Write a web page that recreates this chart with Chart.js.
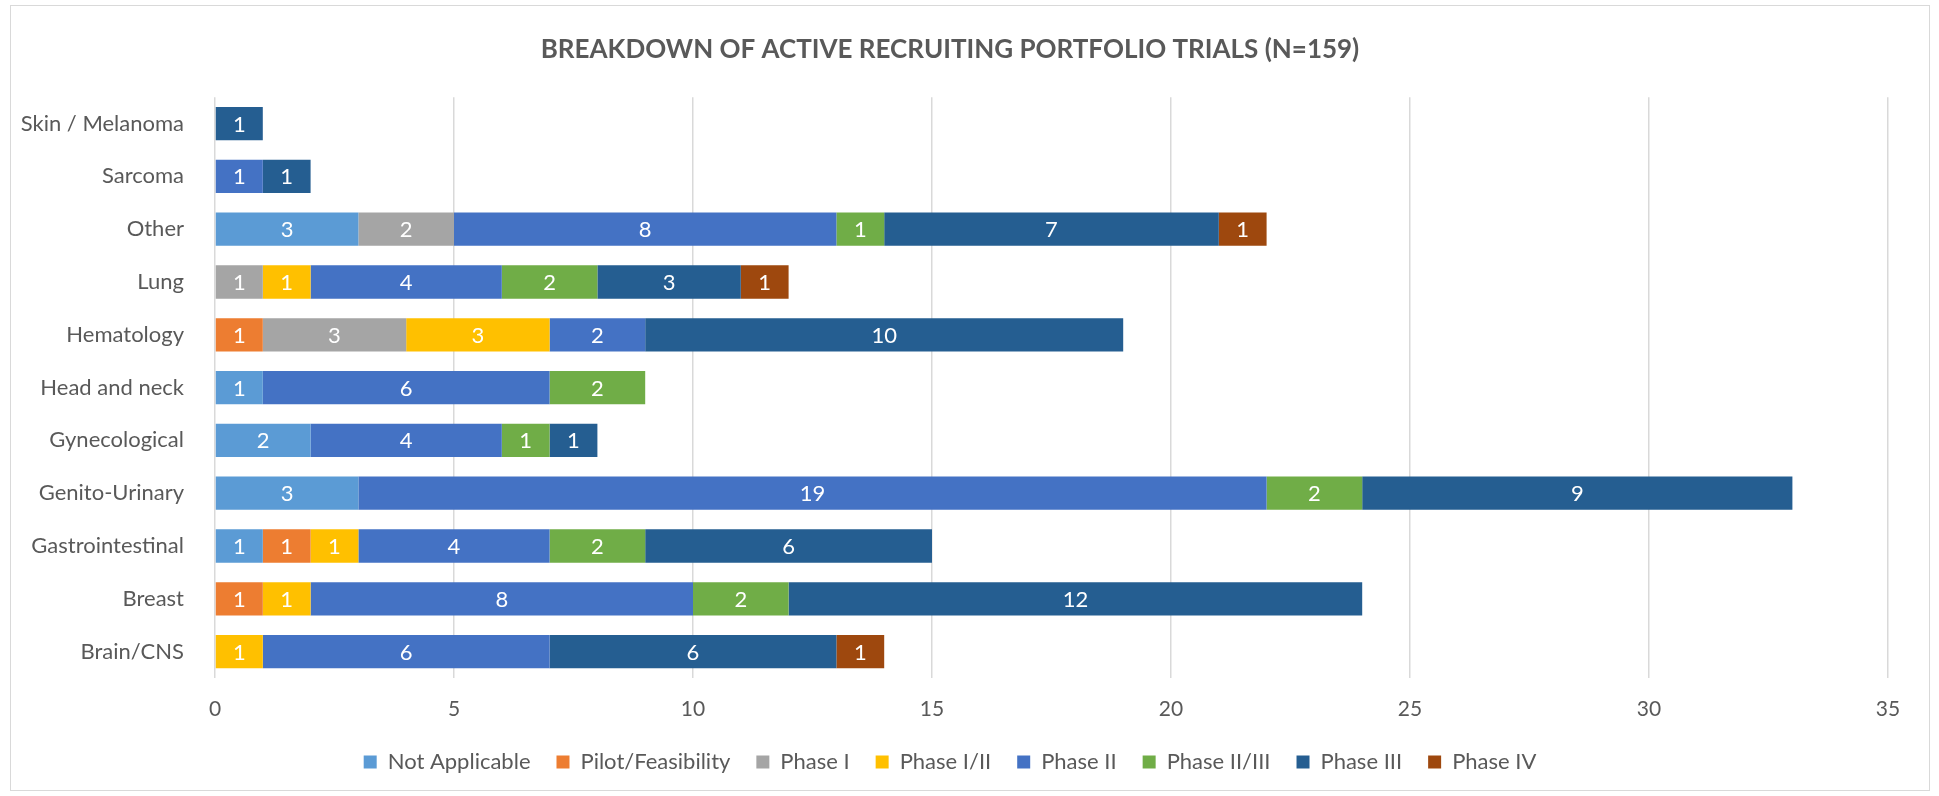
<!DOCTYPE html>
<html>
<head>
<meta charset="utf-8">
<script src="https://cdn.jsdelivr.net/npm/chart.js@4/dist/chart.umd.min.js"></script>
<style>
  html, body { margin: 0; padding: 0; background: #fff; }
  #wrap { position: relative; width: 1939px; height: 796px; }
  #frame { position: absolute; left: 10px; top: 5px; width: 1918px; height: 784px; border: 1.5px solid #d9d9d9; pointer-events: none; }
  canvas { position: absolute; left: 0; top: 0; }
</style>
</head>
<body>
<div id="wrap">
  <canvas id="trialsChart" width="1939" height="796"></canvas>
  <div id="frame"></div>
</div>
<script>
// categories, top to bottom
const categories = ['Skin / Melanoma', 'Sarcoma', 'Other', 'Lung', 'Hematology', 'Head and neck',
    'Gynecological', 'Genito-Urinary', 'Gastrointestinal', 'Breast', 'Brain/CNS'];

const notApplicable = [null, null, 3, null, null, 1, 2, 3, 1, null, null];
const pilotFeasibility = [null, null, null, null, 1, null, null, null, 1, 1, null];
const phase1 = [null, null, 2, 1, 3, null, null, null, null, null, null];
const phase1_2 = [null, null, null, 1, 3, null, null, null, 1, 1, 1];
const phase2 = [null, 1, 8, 4, 2, 6, 4, 19, 4, 8, 6];
const phase2_3 = [null, null, 1, 2, null, 2, 1, 2, 2, 2, null];
const phase3 = [1, 1, 7, 3, 10, null, 1, 9, 6, 12, 6];
const phase4 = [null, null, 1, 1, null, null, null, null, null, null, 1];

const seriesNames = ['Not Applicable', 'Pilot/Feasibility', 'Phase I', 'Phase I/II', 'Phase II',
    'Phase II/III', 'Phase III', 'Phase IV'];
const seriesColors = ['#5B9BD5', '#ED7D31', '#A5A5A5', '#FFC000', '#4472C4', '#70AD47', '#255E91', '#9E480E'];
const seriesValues = [notApplicable, pilotFeasibility, phase1, phase1_2, phase2, phase2_3, phase3, phase4];

const xTicks = [0, 5, 10, 15, 20, 25, 30, 35];

const fontFamily = "Lato, 'Open Sans', sans-serif";
const grey = '#595959';

// white value labels in the middle of each segment
const barLabels = {
    id: 'barLabels',
    afterDatasetsDraw(chart) {
        const ctx = chart.ctx;
        ctx.save();
        ctx.font = '22px ' + fontFamily;
        ctx.fillStyle = '#ffffff';
        ctx.textAlign = 'center';
        ctx.textBaseline = 'middle';
        chart.data.datasets.forEach((ds, i) => {
            const meta = chart.getDatasetMeta(i);
            meta.data.forEach((bar, j) => {
                const v = ds.data[j];
                if (!v) return;
                const p = bar.getProps(['x', 'y', 'base'], true);
                ctx.fillText(String(v), (p.x + p.base) / 2, p.y + 1);
            });
        });
        ctx.restore();
    }
};

const data = {
    labels: categories,
    datasets: seriesNames.map((name, i) => ({
        label: name,
        data: seriesValues[i],
        backgroundColor: seriesColors[i],
        borderWidth: 0,
        barPercentage: 0.63,
        categoryPercentage: 1
    }))
};

const options = {
    indexAxis: 'y',
    responsive: false,
    animation: false,
    layout: {
        padding: { left: 12, right: 51, top: 6, bottom: 13 }
    },
    plugins: {
        title: {
            display: true,
            text: 'BREAKDOWN OF ACTIVE RECRUITING PORTFOLIO TRIALS (N=159)',
            color: grey,
            font: { family: fontFamily, size: 26, weight: 'bold' },
            padding: { top: 28, bottom: 32 }
        },
        legend: {
            position: 'bottom',
            labels: {
                color: grey,
                boxWidth: 13,
                boxHeight: 13,
                padding: 26,
                font: { family: fontFamily, size: 22 }
            }
        },
        tooltip: { enabled: false }
    },
    scales: {
        x: {
            stacked: true,
            min: 0,
            max: 35,
            afterBuildTicks: (scale) => { scale.ticks = xTicks.map(v => ({ value: v })); },
            afterFit: (scale) => { scale.height = 47; },
            grid: { color: '#d9d9d9', lineWidth: 1.5, drawTicks: false },
            border: { display: false },
            ticks: { color: grey, padding: 19, font: { family: fontFamily, size: 21 } }
        },
        y: {
            stacked: true,
            afterFit: (scale) => { scale.width = 203; },
            grid: { display: false },
            border: { display: false },
            ticks: { color: grey, padding: 23, font: { family: fontFamily, size: 22 } }
        }
    }
};

new Chart('trialsChart', { type: 'bar', data, options, plugins: [barLabels] });
</script>
</body>
</html>
